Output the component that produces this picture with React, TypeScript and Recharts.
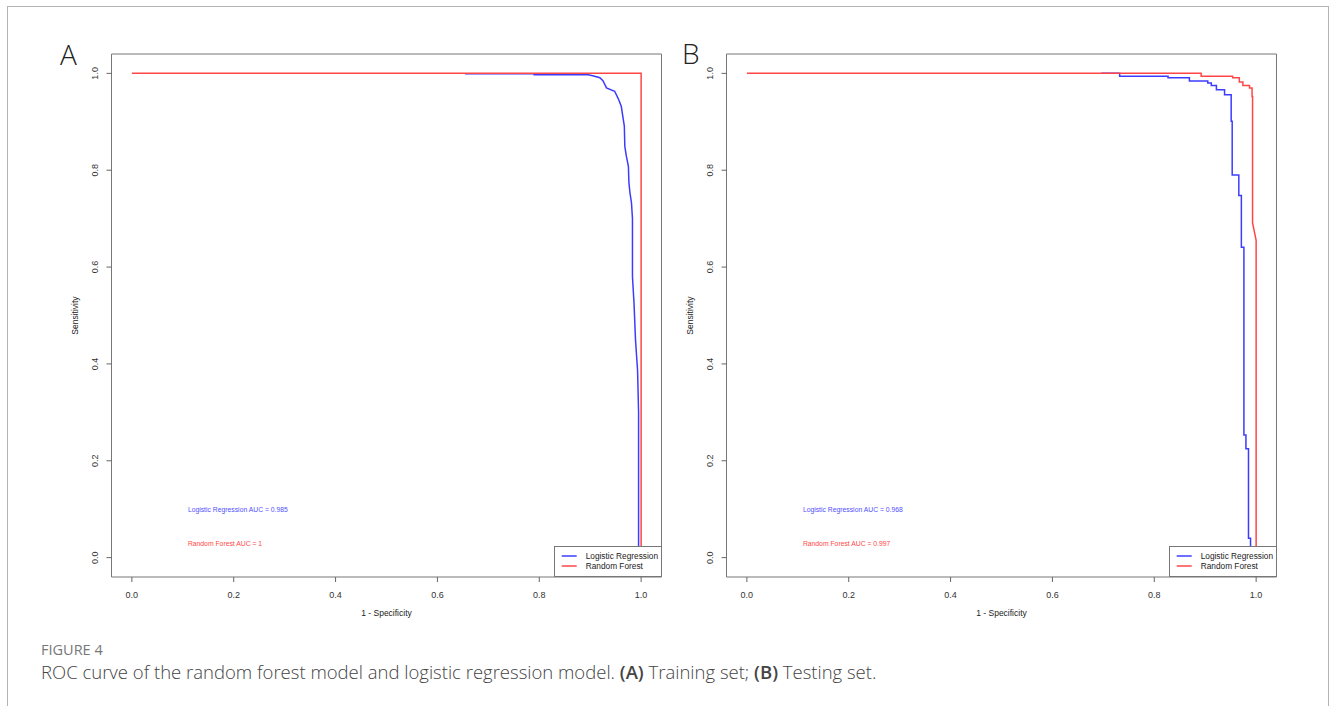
import { LineChart, Line, XAxis, YAxis, ReferenceArea, ReferenceDot, Legend } from 'recharts';

const seriesNames = ['Logistic Regression', 'Random Forest'];
const seriesColors = ['#3c3cff', '#ff4646'];
const axisTicks = [0, 0.2, 0.4, 0.6, 0.8, 1];

// panel A - training set
const trainLogisticX = [0.654, 0.79, 0.79, 0.896, 0.905, 0.919, 0.925, 0.932, 0.948, 0.955, 0.961, 0.967, 0.968, 0.971, 0.975, 0.976, 0.978, 0.981, 0.983, 0.983, 0.986, 0.989, 0.993, 0.995, 0.995];
const trainLogisticY = [0.999, 0.999, 0.997, 0.997, 0.995, 0.991, 0.985, 0.97, 0.963, 0.948, 0.932, 0.891, 0.849, 0.829, 0.808, 0.775, 0.754, 0.733, 0.7, 0.58, 0.526, 0.449, 0.387, 0.3, 0];
const trainForestX = [0, 1, 1];
const trainForestY = [1, 1, 0];
const trainAuc = ['0.985', '1'];

// panel B - testing set
const testLogisticX = [0.696, 0.732, 0.732, 0.827, 0.827, 0.869, 0.869, 0.905, 0.905, 0.912, 0.912, 0.922, 0.922, 0.938, 0.938, 0.951, 0.951, 0.953, 0.953, 0.966, 0.966, 0.971, 0.971, 0.976, 0.976, 0.98, 0.98, 0.985, 0.985, 0.989, 0.989];
const testLogisticY = [1, 1, 0.994, 0.994, 0.991, 0.991, 0.984, 0.984, 0.98, 0.98, 0.975, 0.975, 0.966, 0.966, 0.956, 0.956, 0.901, 0.901, 0.79, 0.79, 0.748, 0.748, 0.641, 0.641, 0.253, 0.253, 0.225, 0.225, 0.04, 0.04, 0];
const testForestX = [0, 0.892, 0.892, 0.954, 0.954, 0.967, 0.967, 0.974, 0.974, 0.987, 0.987, 0.992, 0.992, 0.993, 0.993, 1, 1];
const testForestY = [1, 1, 0.994, 0.994, 0.991, 0.991, 0.982, 0.982, 0.975, 0.975, 0.97, 0.97, 0.952, 0.952, 0.691, 0.655, 0];
const testAuc = ['0.968', '0.997'];

const toPoints = (xs: number[], ys: number[]) => xs.map((x, i) => ({ x, y: ys[i] }));

const FONT = '"Liberation Sans", Arial, sans-serif';

const XTick = ({ x, y, payload }: any) => (
  <text x={x} y={y + 14} textAnchor="middle" fontSize={9} fontFamily={FONT} fill="#333">
    {payload.value.toFixed(1)}
  </text>
);

const YTick = ({ x, y, payload }: any) => (
  <text x={x - 6.6} y={y} textAnchor="middle" fontSize={9} fontFamily={FONT} fill="#333"
    transform={`rotate(-90, ${x - 6.6}, ${y})`}>
    {payload.value.toFixed(1)}
  </text>
);

const LegendBox = () => (
  <svg width={108} height={31} style={{ display: 'block' }}>
    <rect x={0.5} y={0.5} width={107} height={30} fill="#fff" stroke="#777" />
    {seriesNames.map((name, i) => (
      <g key={name}>
        <line x1={7.7} x2={22.7} y1={10 + i * 10} y2={10 + i * 10} stroke={seriesColors[i]} strokeWidth={1.5} />
        <text x={31.7} y={13 + i * 10} fontSize={8.3} fontFamily={FONT} fill="#222">{name}</text>
      </g>
    ))}
  </svg>
);

type PanelProps = {
  left: number;
  logistic: { x: number; y: number }[];
  forest: { x: number; y: number }[];
  auc: string[];
};

function RocPanel({ left, logistic, forest, auc }: PanelProps) {
  return (
    <div style={{ position: 'absolute', left, top: 20 }}>
      <LineChart width={640} height={620} margin={{ top: 34, right: 18.5, bottom: 23, left: 31.5 }}>
        <XAxis type="number" dataKey="x" domain={[-0.04, 1.04]} ticks={axisTicks} allowDataOverflow
          axisLine={false} tickSize={5} tickLine={{ stroke: '#666' }} tick={<XTick />} height={40}
          label={{ value: '1 - Specificity', position: 'insideBottom', offset: 1, fontSize: 8.5, fontFamily: FONT, fill: '#222' }} />
        <YAxis type="number" dataKey="y" domain={[-0.04, 1.04]} ticks={axisTicks} allowDataOverflow
          axisLine={false} tickSize={5} tickLine={{ stroke: '#666' }} tick={<YTick />} width={40}
          label={({ viewBox }: any) => (
            <text x={viewBox.x + 6.5} y={viewBox.y + viewBox.height / 2} textAnchor="middle" fontSize={8.5}
              fontFamily={FONT} fill="#222"
              transform={`rotate(-90, ${viewBox.x + 6.5}, ${viewBox.y + viewBox.height / 2})`}>
              Sensitivity
            </text>
          )} />
        <ReferenceArea x1={-0.04} x2={1.04} y1={-0.04} y2={1.04} fill="none" stroke="#777" strokeWidth={1} />
        <Line data={logistic} dataKey="y" name={seriesNames[0]} stroke={seriesColors[0]} strokeWidth={1.5}
          dot={false} isAnimationActive={false} type="linear" />
        <Line data={forest} dataKey="y" name={seriesNames[1]} stroke={seriesColors[1]} strokeWidth={1.5}
          dot={false} isAnimationActive={false} type="linear" />
        <ReferenceDot x={0.11} y={0.1} r={0} fill="none" stroke="none"
          label={{ value: `${seriesNames[0]} AUC = ${auc[0]}`, position: 'right', offset: 0, fontSize: 6.8, fontFamily: FONT, fill: '#5050ff' }} />
        <ReferenceDot x={0.11} y={0.03} r={0} fill="none" stroke="none"
          label={{ value: `${seriesNames[1]} AUC = ${auc[1]}`, position: 'right', offset: 0, fontSize: 6.8, fontFamily: FONT, fill: '#ff4646' }} />
        <Legend layout="vertical" align="center" verticalAlign="middle" content={<LegendBox />}
          wrapperStyle={{ left: 514, top: 526, width: 108, height: 31, margin: 0 }} />
      </LineChart>
    </div>
  );
}

export default function App() {
  return (
    <div style={{ position: 'absolute', left: 0, top: 0, width: 1331, height: 706, overflow: 'hidden', background: '#fff' }}>
      <div style={{ position: 'absolute', left: 7, top: 6, width: 1322, height: 760, border: '1px solid #b4b4b4', boxSizing: 'border-box' }} />
      <RocPanel left={40} logistic={toPoints(trainLogisticX, trainLogisticY)} forest={toPoints(trainForestX, trainForestY)} auc={trainAuc} />
      <RocPanel left={655} logistic={toPoints(testLogisticX, testLogisticY)} forest={toPoints(testForestX, testForestY)} auc={testAuc} />
      <svg width={1331} height={706} style={{ position: 'absolute', left: 0, top: 0, pointerEvents: 'none' }}>
        <text x={60} y={65} fontSize={28} fontWeight={300} fontFamily='"Open Sans", sans-serif' fill="#222">A</text>
        <text x={682} y={64} fontSize={28} fontWeight={300} fontFamily='"Open Sans", sans-serif' fill="#222">B</text>
        <text x={41} y={655} fontSize={14.5} fontFamily='"Open Sans", sans-serif' fill="#777">FIGURE 4</text>
        <text x={41} y={679} fontSize={18.5} fontWeight={300} fontFamily='"Open Sans", sans-serif' fill="#444">
          ROC curve of the random forest model and logistic regression model. <tspan fontWeight={600}>(A)</tspan> Training set; <tspan fontWeight={600}>(B)</tspan> Testing set.
        </text>
      </svg>
    </div>
  );
}
